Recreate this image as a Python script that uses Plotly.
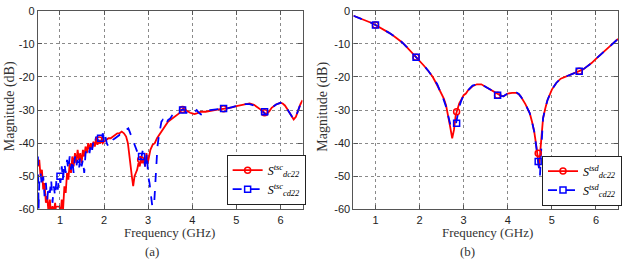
import plotly.graph_objects as go

# ---------------- Panel (a) data ----------------
fa_dc = [0.50,0.53,0.56,0.59,0.62,0.65,0.68,0.71,0.74,0.77,0.80,0.83,0.86,0.89,0.92,0.95,0.98,1.01,1.04,1.07,
         1.10,1.13,1.16,1.19,1.22,1.25,1.28,1.31,1.34,1.37,1.40,1.43,1.46,1.49,1.52,1.55,1.58,1.61,1.64,1.67,
         1.70,1.73,1.76,1.79,1.82,1.85,1.88,1.91,1.94,1.97,2.00,2.05,2.10,2.15,2.20,2.25,2.30,2.35,2.40,2.45,
         2.50,2.54,2.57,2.60,2.63,2.66,2.69,2.72,2.75,2.78,2.81,2.84,2.87,2.90,2.93,2.96,2.99,3.02,3.05,3.10,
         3.15,3.20,3.25,3.30,3.35,3.40,3.45,3.50,3.55,3.60,3.65,3.70,3.75,3.80,3.85,3.90,3.95,4.00,4.05,4.10,
         4.15,4.20,4.30,4.40,4.50,4.60,4.70,4.80,4.90,5.00,5.10,5.20,5.30,5.40,5.50,5.60,5.65,5.70,5.75,5.80,
         5.90,6.00,6.05,6.10,6.15,6.20,6.25,6.30,6.35,6.40,6.45,6.50]
sa_dc = [-47,-45,-50,-48,-54,-52,-58,-56,-61,-57,-62,-59,-61,-58,-62,-60,-61,-62,-57,-60,
         -53,-55,-49,-51,-46,-49,-44,-47,-43,-46,-42,-45,-43,-46,-42,-44,-41,-43,-40,-42,
         -40,-41.5,-39.5,-41,-39,-40.5,-39,-40,-39,-40,-39.5,-39,-38.5,-38.5,-38,-37.5,-37,-37,-36.5,-37,
         -38,-40,-44,-48,-50,-53,-50,-49,-48,-46,-47,-44,-46,-45,-47,-43,-46,-44,-42,-40.5,
         -40,-38.5,-37.5,-36.5,-35.5,-34.5,-33.5,-33,-32.5,-32,-31.5,-31,-30,-29.5,-30,-30.5,-30.8,-31,-31.2,-31,
         -30.8,-30.5,-30.5,-30.2,-30,-29.8,-29.6,-29.5,-29.2,-28.8,-28.5,-28.1,-28,-28.4,-29.3,-30.3,-31,-31,-30.3,-29.3,
         -28.3,-27.8,-28,-28.6,-29.6,-30.8,-32,-32.8,-32,-30,-28.3,-27]

fa_cd = [0.50,0.515,0.53,0.56,0.59,0.62,0.65,0.68,0.71,0.74,0.77,0.80,0.83,0.86,0.89,0.92,0.95,0.98,1.01,1.04,
         1.07,1.10,1.13,1.16,1.19,1.22,1.25,1.28,1.31,1.34,1.37,1.40,1.43,1.46,1.49,1.52,1.55,1.58,1.61,1.64,
         1.67,1.70,1.73,1.76,1.79,1.82,1.85,1.88,1.91,1.94,1.97,2.00,2.03,2.06,2.10,2.15,2.20,2.25,2.30,2.35,
         2.40,2.45,2.50,2.55,2.58,2.62,2.66,2.70,2.74,2.78,2.82,2.85,2.88,2.91,2.94,2.97,3.00,3.03,3.06,3.09,
         3.12,3.15,3.18,3.21,3.24,3.27,3.30,3.33,3.36,3.40,3.45,3.50,3.55,3.60,3.65,3.70,3.75,3.80,3.85,3.90,
         3.95,4.00,4.05,4.10,4.15,4.20,4.25,4.30,4.40,4.50,4.60,4.70,4.80,4.90,5.00,5.10,5.20,5.30,5.40,5.50,
         5.60,5.65,5.70,5.75,5.80,5.90,6.00,6.05,6.10,6.15,6.20,6.25,6.30,6.35,6.40,6.45,6.50]
sa_cd = [-44,-60,-52,-49,-53,-50,-56,-52,-57,-53,-55,-51,-58,-53,-56,-51,-54,-50,-52,-47,
         -51,-46,-49,-45,-48,-44,-48,-45,-49,-44,-47,-45,-48,-44,-47,-45,-49,-43,-42,-41,
         -43,-40,-42,-39,-40,-38,-39,-38,-38.5,-39.5,-37,-39,-38,-40,-41,-40,-39,-38.5,-38,-37.5,
         -37.5,-37,-36,-35.5,-36.5,-38,-39,-41,-42.5,-44,-45,-44,-42,-45,-48,-43,-50,-52,-56,-60,
         -62,-55,-47,-41,-38,-35,-33.5,-33,-34,-34.5,-33,-32.5,-31.5,-31,-30.5,-30.2,-30,-29.8,-30.5,-31.2,
         -30.8,-30.5,-30.6,-30,-30.8,-31.3,-31,-30.2,-30,-29.8,-29.7,-29.5,-29.5,-29.1,-28.7,-28.4,-28.2,-28.2,-28.6,-29.5,
         -30.5,-31.2,-31.3,-30.4,-29.3,-28.3,-27.8,-28,-28.6,-29.6,-30.8,-32,-32.8,-32,-30,-28.3,-27]

ma_dc_x = [0.95, 1.89, 2.83, 3.78, 4.71, 5.64]
ma_dc_y = [-60, -39, -45, -29.8, -29.6, -30.8]
ma_cd_x = [1.0, 1.92, 2.85, 3.78, 4.71, 5.64]
ma_cd_y = [-50, -38.5, -44, -30, -29.5, -30.5]

# ---------------- Panel (b) data ----------------
fb_dc = [0.50,0.60,0.70,0.80,0.90,1.00,1.10,1.20,1.30,1.40,1.50,1.60,1.70,1.80,1.90,2.00,2.10,2.20,2.30,2.40,
         2.50,2.55,2.60,2.65,2.70,2.74,2.78,2.82,2.86,2.90,2.95,3.00,3.05,3.10,3.20,3.30,3.40,3.50,3.60,3.70,
         3.80,3.85,3.90,3.95,4.00,4.10,4.20,4.25,4.30,4.40,4.50,4.55,4.60,4.65,4.68,4.71,4.74,4.77,4.80,4.85,
         4.90,5.00,5.10,5.20,5.30,5.40,5.50,5.60,5.70,5.80,5.90,6.00,6.10,6.20,6.30,6.40,6.50]
sb_dc = [-1.5,-2.0,-2.5,-3.0,-3.6,-4.3,-5.0,-5.8,-6.6,-7.5,-8.4,-9.5,-10.8,-12.2,-13.8,-15.2,-16.6,-18.2,-20.0,-22.5,
         -25.0,-26.5,-28.5,-31.5,-35.5,-38.5,-36,-31.5,-29.5,-28,-26.8,-25.5,-25,-24,-22.8,-22.2,-22.2,-23,-23.8,-24.6,
         -25.3,-25.7,-25.8,-25.4,-25,-24.8,-24.8,-25.2,-26,-28.2,-31,-33.5,-36.5,-41,-44.5,-47.5,-42,-36,-32.5,-29.5,
         -27,-23.8,-21.8,-20.5,-20,-19.5,-19,-18.5,-17.8,-16.8,-15.8,-14.5,-13.3,-12,-10.8,-9.5,-8.5]

fb_cd = [0.50,0.60,0.70,0.80,0.90,1.00,1.10,1.20,1.30,1.40,1.50,1.60,1.70,1.80,1.90,2.00,2.10,2.20,2.30,2.40,
         2.50,2.55,2.60,2.65,2.70,2.74,2.78,2.82,2.86,2.90,2.95,3.00,3.05,3.10,3.20,3.25,3.30,3.40,3.50,3.60,3.70,
         3.80,3.85,3.90,3.95,4.00,4.10,4.20,4.25,4.30,4.40,4.50,4.55,4.60,4.65,4.68,4.71,4.73,4.75,4.78,4.80,4.85,
         4.90,5.00,5.10,5.20,5.30,5.40,5.50,5.60,5.70,5.80,5.90,6.00,6.10,6.20,6.30,6.40,6.50]
sb_cd = [-1.5,-2.0,-2.5,-3.0,-3.6,-4.3,-5.0,-5.8,-6.6,-7.5,-8.4,-9.5,-10.8,-12.2,-13.8,-15.2,-16.6,-18.2,-20.0,-22.2,
         -25.2,-27,-29,-32,-34.5,-35,-35,-34.5,-32,-29,-27,-25.5,-25,-24,-22.6,-22.4,-22.3,-22.2,-23,-23.8,-24.6,
         -25.3,-25.7,-25.8,-25.4,-25,-24.8,-24.7,-25.1,-26,-28.2,-31,-33.5,-36.5,-41.5,-45,-48,-50,-44,-36,-32.5,-29.5,
         -27,-23.8,-21.8,-20.5,-20,-19.5,-19,-18.4,-17.8,-16.8,-15.8,-14.5,-13.3,-12,-10.8,-9.5,-8.5]

mb_dc_x = [1.0, 1.92, 2.84, 3.77, 4.69, 5.62]
mb_dc_y = [-4.3, -14, -30.5, -25.5, -43, -18.3]
mb_cd_x = [1.0, 1.92, 2.84, 3.77, 4.69, 5.62]
mb_cd_y = [-4.3, -14, -34, -25.5, -45.5, -18.3]

xticks = [1, 2, 3, 4, 5, 6]
yticks = [-60, -50, -40, -30, -20, -10, 0]
yticklabels = ["-60", "-50", "-40", "-30", "-20", "-10", "0"]

RED = "#ff0000"
BLUE = "#0000ff"
SERIF = "Liberation Serif, DejaVu Serif, serif"
SANS = "Liberation Sans, Arial, sans-serif"

fig = go.Figure()

def add_panel(xa, ya, legend, fdc, sdc, fcd, scd, mdx, mdy, mcx, mcy, sup):
    fig.add_trace(go.Scatter(x=fdc, y=sdc, mode="lines", line=dict(color=RED, width=1.8),
                             xaxis=xa, yaxis=ya, showlegend=False))
    fig.add_trace(go.Scatter(x=fcd, y=scd, mode="lines", line=dict(color=BLUE, width=1.8, dash="dash"),
                             xaxis=xa, yaxis=ya, showlegend=False))
    fig.add_trace(go.Scatter(x=mdx, y=mdy, mode="markers",
                             marker=dict(symbol="circle-open", color=RED, size=6, line=dict(width=1.5)),
                             xaxis=xa, yaxis=ya, showlegend=False))
    fig.add_trace(go.Scatter(x=mcx, y=mcy, mode="markers",
                             marker=dict(symbol="square-open", color=BLUE, size=6, line=dict(width=1.5)),
                             xaxis=xa, yaxis=ya, showlegend=False))
    fig.add_trace(go.Scatter(x=[None], y=[None], mode="lines+markers",
                             line=dict(color=RED, width=1.8),
                             marker=dict(symbol="circle-open", color=RED, size=6, line=dict(width=1.5)),
                             name="<i>S</i><sup><i>" + sup + "</i></sup><sub><i>dc22</i></sub>",
                             xaxis=xa, yaxis=ya, legend=legend))
    fig.add_trace(go.Scatter(x=[None], y=[None], mode="lines+markers",
                             line=dict(color=BLUE, width=1.8, dash="dash"),
                             marker=dict(symbol="square-open", color=BLUE, size=6, line=dict(width=1.5)),
                             name="<i>S</i><sup><i>" + sup + "</i></sup><sub><i>cd22</i></sub>",
                             xaxis=xa, yaxis=ya, legend=legend))

add_panel("x", "y", "legend", fa_dc, sa_dc, fa_cd, sa_cd, ma_dc_x, ma_dc_y, ma_cd_x, ma_cd_y, "tsc")
add_panel("x2", "y2", "legend2", fb_dc, sb_dc, fb_cd, sb_cd, mb_dc_x, mb_dc_y, mb_cd_x, mb_cd_y, "tsd")

W, H = 622, 267
ybot, ytop = 213, 5
ydom = [(H - ybot) / H, (H - ytop) / H]

axis_common = dict(showline=True, linecolor="#555555", linewidth=1.2, mirror="ticks",
                   ticks="inside", ticklen=4, tickcolor="#555555",
                   showgrid=True, gridcolor="#8a8a8a", griddash="dot", gridwidth=1,
                   zeroline=False, ticklabeloverflow="allow",
                   tickfont=dict(family=SANS, size=11, color="#222222"))

leg_common = dict(xanchor="left", yanchor="bottom", bgcolor="white", bordercolor="#222222", borderwidth=1,
                  font=dict(family=SERIF, size=12, color="black"), tracegroupgap=0, itemwidth=30)

fig.update_layout(
    width=W, height=H, margin=dict(l=0, r=0, t=0, b=0),
    paper_bgcolor="white", plot_bgcolor="white",
    xaxis=dict(domain=[38 / W, 303 / W], range=[0.5, 6.5], tickvals=xticks, anchor="y", **axis_common),
    yaxis=dict(domain=ydom, range=[-60, 0], tickvals=yticks, ticktext=yticklabels, anchor="x", **axis_common),
    xaxis2=dict(domain=[354 / W, 619 / W], range=[0.5, 6.5], tickvals=xticks, anchor="y2", **axis_common),
    yaxis2=dict(domain=ydom, range=[-60, 0], tickvals=yticks, ticktext=yticklabels, anchor="x2", **axis_common),
    legend=dict(x=227 / W, y=(H - 208) / H, **leg_common),
    legend2=dict(x=543 / W, y=(H - 209) / H, **leg_common),
)

ann_font = dict(family=SERIF, size=13, color="#333333")
annotations = [
    dict(text="Frequency (GHz)", x=170 / W, y=(H - 237) / H),
    dict(text="Frequency (GHz)", x=488 / W, y=(H - 237) / H),
    dict(text="(a)", x=152 / W, y=(H - 257) / H),
    dict(text="(b)", x=468 / W, y=(H - 257) / H),
]
for a in annotations:
    fig.add_annotation(xref="paper", yref="paper", showarrow=False, xanchor="center", yanchor="middle",
                       font=ann_font, **a)
for xp in [10, 324]:
    fig.add_annotation(xref="paper", yref="paper", showarrow=False, text="Magnitude (dB)",
                       x=xp / W, y=(H - 105) / H, textangle=-90, xanchor="center", yanchor="middle",
                       font=dict(family=SERIF, size=14, color="#333333"))

fig.write_html("out.html")
